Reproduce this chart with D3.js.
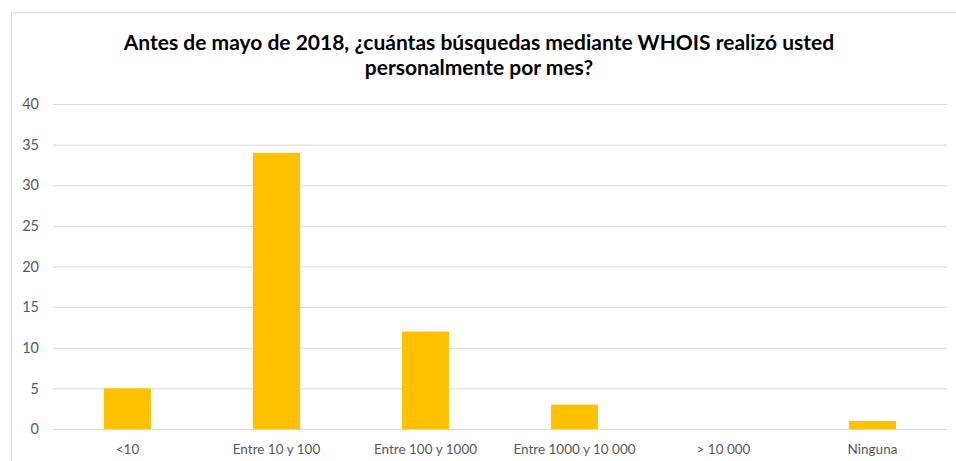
<!DOCTYPE html>
<html>
<head>
<meta charset="utf-8">
<script src="https://cdn.jsdelivr.net/npm/d3@7"></script>
<style>
  body { margin: 0; background: #fff; }
  svg { display: block; }
</style>
</head>
<body>
<div id="chart-area"></div>
<script>
const canvas_width = 956;
const canvas_height = 461;

// data
const categories = ['<10', 'Entre 10 y 100', 'Entre 100 y 1000', 'Entre 1000 y 10 000', '> 10 000', 'Ninguna'];
const values = [5, 34, 12, 3, 0, 1];
const tick_values = [0, 5, 10, 15, 20, 25, 30, 35, 40];
const title_lines = ['Antes de mayo de 2018, ¿cuántas búsquedas mediante WHOIS realizó usted', 'personalmente por mes?'];

const margin = { left: 53, right: 9, top: 104, bottom: 32 };
const font = 'Lato, Carlito, Calibri, sans-serif';

let canvas = d3.select('#chart-area').append('svg')
    .attr('width', canvas_width)
    .attr('height', canvas_height);

// chart frame
canvas.append('rect')
    .attr('x', 11.5).attr('y', 12.5)
    .attr('width', canvas_width).attr('height', canvas_height)
    .attr('fill', 'none')
    .attr('stroke', '#d9d9d9');

let w = canvas_width - margin.left - margin.right;
let h = canvas_height - margin.top - margin.bottom;

let group = canvas.append('g').attr('transform', `translate(${margin.left}, ${margin.top})`);

let x = d3.scaleBand()
    .domain(categories)
    .range([0, w])
    .paddingInner(0.685)
    .paddingOuter(0.3425);

let y = d3.scaleLinear()
    .domain([0, 40])
    .range([h, 0]);

// gridlines
group.append('g')
    .attr('class', 'grid')
    .call(d3.axisLeft(y).tickValues(tick_values).tickSize(-w).tickFormat(''))
    .call(g => g.select('.domain').remove())
    .selectAll('line')
        .attr('stroke', '#d9d9d9')
        .attr('stroke-width', 1);

let data = categories.map((c, i) => ({ cat: c, val: values[i] }));

group.selectAll('rect.bar').data(data)
    .enter().append('rect')
    .attr('class', 'bar')
    .attr('x', (d) => { return x(d.cat); })
    .attr('y', (d) => { return y(d.val); })
    .attr('width', x.bandwidth())
    .attr('height', (d) => { return h - y(d.val); })
    .attr('fill', '#ffc000');

// left axis labels
let leftAxis = group.append('g')
    .attr('class', 'left axis')
    .call(d3.axisLeft(y).tickValues(tick_values).tickSize(0).tickPadding(14));
leftAxis.select('.domain').remove();
leftAxis.selectAll('text')
    .attr('font-family', font)
    .attr('font-size', '14.5px')
    .attr('fill', '#595959');

// bottom axis labels
let bottomAxis = group.append('g')
    .attr('class', 'bottom axis')
    .attr('transform', `translate(0, ${h})`)
    .call(d3.axisBottom(x).tickSize(0).tickPadding(15));
bottomAxis.select('.domain').remove();
bottomAxis.selectAll('text')
    .attr('font-family', font)
    .attr('font-size', '13.5px')
    .attr('fill', '#595959');

// title
canvas.append('text')
    .attr('x', 479)
    .attr('y', 50)
    .attr('text-anchor', 'middle')
    .attr('font-family', font)
    .attr('font-weight', 'bold')
    .attr('font-size', '21px')
    .attr('fill', '#000')
    .selectAll('tspan').data(title_lines)
    .enter().append('tspan')
        .attr('x', 479)
        .attr('dy', (d, i) => i === 0 ? 0 : 25)
        .text((d) => d);
</script>
</body>
</html>
